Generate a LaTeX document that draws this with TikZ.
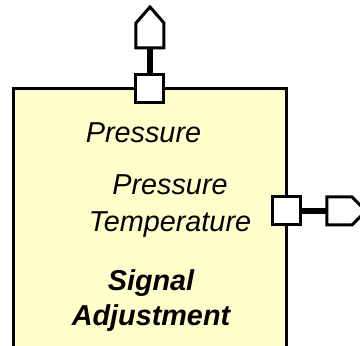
\documentclass[tikz,border=0pt]{standalone}
\usepackage{fontspec}
\setmainfont{Liberation Sans}
\begin{document}
\begin{tikzpicture}[x=0.5pt, y=0.5pt]
    \definecolor{blockFill}{HTML}{FFFFCC}
    \definecolor{borderColour}{HTML}{000000}

    \tikzset{
        port/.style={draw=borderColour, fill=white, line width=1.5pt, minimum size=14pt, inner sep=0pt},
        stem/.style={draw=borderColour, line width=3pt},
        flag/.style={draw=borderColour, fill=white, line width=1.5pt, line join=miter},
        blockText/.style={font=\fontsize{14.4}{18.5}\selectfont\itshape, align=center, inner sep=0pt}
    }

    \useasboundingbox (0,0) rectangle (360,346);

    % block
    \filldraw[fill=blockFill, draw=borderColour, line width=1.5pt] (14,-20) rectangle (287,257);

    \node[blockText] (flowIn) at (143.5,213) {Pressure};
    \node[blockText] (flowOut) at (170,139.5) {Pressure\\Temperature};
    \node[blockText, font=\fontsize{14.4}{17.5}\selectfont\itshape\bfseries] (blockName) at (151,45.5) {Signal\\Adjustment};

    % ports
    \node[port] (topPort) at (150,257) {};
    \node[port] (rightPort) at (287,135) {};

    \coordinate (topEnd) at (150,298);
    \coordinate (rightEnd) at (327,135);

    \filldraw[flag] (136,298) -- (136,323) -- (150,339) -- (164,323) -- (164,298) -- cycle;
    \filldraw[flag] (327,121) -- (352,121) -- (366,135) -- (352,149) -- (327,149) -- cycle;

    \draw[stem] (topPort.north) -- (topEnd);
    \draw[stem] (rightPort.east) -- (rightEnd);

\end{tikzpicture}
\end{document}
